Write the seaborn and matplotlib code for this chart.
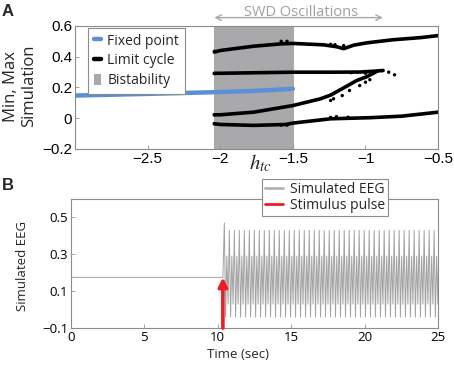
import numpy as np
import pandas as pd
import seaborn as sns
import matplotlib.pyplot as plt
from matplotlib.lines import Line2D
from matplotlib.patches import Patch

# ---- panel A data ----
fixed_x = [-3.0, -2.5, -2.0, -1.75, -1.5]
fixed_y = [0.147, 0.158, 0.170, 0.178, 0.191]

bistable_span = (-2.04, -1.49)

# limit cycle branches (max / min of the simulation)
top_x = [-2.04, -2.0, -1.77, -1.57, -1.5, -1.29, -1.2, -1.15, -1.08, -0.99, -0.81, -0.62, -0.5]
top_y = [0.430, 0.440, 0.468, 0.484, 0.486, 0.477, 0.465, 0.452, 0.475, 0.490, 0.510, 0.524, 0.537]
mid_x = [-2.04, -2.0, -1.5, -1.24, -1.04, -0.95, -0.88]
mid_y = [0.292, 0.292, 0.299, 0.299, 0.300, 0.305, 0.310]
rise_x = [-2.04, -2.0, -1.77, -1.5, -1.31, -1.24, -1.15, -1.06, -0.99, -0.93]
rise_y = [0.022, 0.022, 0.039, 0.082, 0.126, 0.150, 0.197, 0.245, 0.270, 0.300]
low_x = [-2.04, -2.0, -1.77, -1.55, -1.5, -1.24, -0.97, -0.75, -0.5]
low_y = [-0.036, -0.041, -0.047, -0.041, -0.032, -0.004, 0.003, 0.013, 0.039]

# scattered limit cycle points
dots_x = [-2.04, -2.04, -2.04, -2.04, -1.58, -1.54, -1.58, -1.54, -1.24, -1.21, -1.15,
          -1.24, -1.2, -1.12, -0.88, -0.84, -0.80, -0.97, -1.0, -1.04, -1.11, -1.16,
          -1.22, -1.24, -1.1, -1.0, -0.92]
dots_y = [0.435, 0.29, 0.022, -0.036, 0.500, 0.500, -0.045, -0.045, 0.480, 0.478, 0.472,
          0.005, 0.010, 0.006, 0.310, 0.299, 0.282, 0.250, 0.234, 0.212, 0.180, 0.147,
          0.126, 0.115, 0.296, 0.292, 0.305]

a_xticks = [-2.5, -2, -1.5, -1, -0.5]
a_xlabels = ['\u22122.5', '\u22122', '\u22121.5', '\u22121', '\u22120.5']
a_yticks = [-0.2, 0, 0.2, 0.4, 0.6]
a_ylabels = ['\u22120.2', '0', '0.2', '0.4', '0.6']

# ---- panel B data ----
rest_level = 0.175
stim_time = 10.35
first_peak_t = 10.45
first_peak_v = 0.47
cycle_period = 0.34
cycle_offsets = [0.0, 0.085, 0.17, 0.255]   # spike, trough, wave, trough
cycle_values = [0.43, -0.04, 0.29, 0.03]
n_cycles = 44

b_xticks = [0, 5, 10, 15, 20, 25]
b_yticks = [-0.1, 0.1, 0.3, 0.5]
b_ylabels = ['\u22120.1', '0.1', '0.3', '0.5']

# build the EEG trace from the cycle
eeg_t = [0.0, stim_time]
eeg_v = [rest_level, rest_level]
for k in range(n_cycles):
    for off, val in zip(cycle_offsets, cycle_values):
        eeg_t.append(first_peak_t + k * cycle_period + off)
        eeg_v.append(val)
eeg_v[2] = first_peak_v
eeg = pd.DataFrame({'t': eeg_t, 'v': eeg_v})

sns.set_style('ticks', {'xtick.direction': 'in', 'ytick.direction': 'in'})
plt.rcParams['font.family'] = ['Open Sans', 'DejaVu Sans']
plt.rcParams['mathtext.fontset'] = 'stix'

fig = plt.figure(figsize=(4.54, 3.65), dpi=100)
axA = fig.add_axes([0.165, 0.592, 0.800, 0.337])
axB = fig.add_axes([0.156, 0.101, 0.809, 0.354])

spine_col = '#8c8c8c'
blue = '#5b8fd6'
shade = '#a9a9ab'

# ---- panel A ----
axA.axvspan(*bistable_span, color=shade, lw=0, zorder=0)
sns.lineplot(x=fixed_x, y=fixed_y, ax=axA, color=blue, lw=3.2, estimator=None, sort=False)
for bx, by in [(top_x, top_y), (mid_x, mid_y), (rise_x, rise_y), (low_x, low_y)]:
    sns.lineplot(x=bx, y=by, ax=axA, color='black', lw=2.6, estimator=None, sort=False)
sns.scatterplot(x=dots_x, y=dots_y, ax=axA, color='black', s=6, edgecolor='none')

axA.set_xlim(-3, -0.5)
axA.set_ylim(-0.2, 0.6)
axA.set_xticks(a_xticks)
axA.set_xticklabels(a_xlabels, family='Liberation Sans', fontsize=11)
axA.set_yticks(a_yticks)
axA.set_yticklabels(a_ylabels, family='Liberation Sans', fontsize=11)
axA.set_xlabel('')
axA.set_ylabel('')

legA = axA.legend(handles=[Line2D([], [], color=blue, lw=3.2),
                           Line2D([], [], color='black', lw=3.2),
                           Patch(facecolor=shade, edgecolor='none')],
                  labels=['Fixed point', 'Limit cycle', 'Bistability'],
                  loc='upper left', bbox_to_anchor=(88 / 454, 1 - 28 / 365),
                  bbox_transform=fig.transFigure, borderaxespad=0,
                  fontsize=10, handlelength=0.5, handleheight=0.8, handletextpad=0.5,
                  labelspacing=0.35, borderpad=0.4, fancybox=False, framealpha=1)
legA.get_frame().set_edgecolor(spine_col)
legA.get_frame().set_linewidth(0.8)

# SWD oscillations arrow above panel A
axA.annotate('', xy=(-0.88, 0.654), xytext=(-2.04, 0.654),
             arrowprops=dict(arrowstyle='<->', color='#a8a8a8', lw=1.0,
                             shrinkA=0, shrinkB=0),
             annotation_clip=False)
axA.text(-1.44, 0.69, 'SWD Oscillations', color='#a0a0a0', fontsize=10.5,
         ha='center', va='center', clip_on=False)

fig.text(260 / 454, 1 - 163 / 365, '$h_{tc}$', fontsize=15, ha='center', va='center')
fig.text(20 / 454, 1 - 86 / 365, 'Min, Max\nSimulation', rotation=90, fontsize=12,
         ha='center', va='center', multialignment='center')

# ---- panel B ----
sns.lineplot(data=eeg, x='t', y='v', ax=axB, color='#a2a2a2', lw=0.7,
             estimator=None, sort=False)
axB.annotate('', xy=(stim_time, rest_level), xytext=(stim_time, -0.1),
             arrowprops=dict(arrowstyle='-|>', color='#ee1c24', lw=2.6,
                             mutation_scale=13, shrinkA=0, shrinkB=0))
axB.set_xlim(0, 25)
axB.set_ylim(-0.1, 0.6)
axB.set_xticks(b_xticks)
axB.set_xticklabels([str(t) for t in b_xticks], fontsize=9.5)
axB.set_yticks(b_yticks)
axB.set_yticklabels(b_ylabels, fontsize=9.5)
axB.set_xlabel('')
axB.set_ylabel('')

legB = axB.legend(handles=[Line2D([], [], color='#b4b4b4', lw=2),
                           Line2D([], [], color='#ee1c24', lw=2)],
                  labels=['Simulated EEG', 'Stimulus pulse'],
                  loc='upper left', bbox_to_anchor=(262 / 454, 1 - 179 / 365),
                  bbox_transform=fig.transFigure, borderaxespad=0,
                  fontsize=10, handlelength=1.3, handletextpad=0.5,
                  labelspacing=0.1, borderpad=0.2, fancybox=False, framealpha=1)
legB.get_frame().set_edgecolor(spine_col)
legB.get_frame().set_linewidth(0.8)

fig.text(238 / 454, 1 - 354 / 365, 'Time (sec)', fontsize=9.5, ha='center', va='center')
fig.text(23 / 454, 1 - 266 / 365, 'Simulated EEG', rotation=90, fontsize=9.5,
         ha='center', va='center')

for ax in (axA, axB):
    for sp in ax.spines.values():
        sp.set_color(spine_col)
        sp.set_linewidth(0.8)
    ax.tick_params(length=3, width=0.6, color=spine_col, labelcolor='black', pad=2)

fig.text(8 / 454, 1 - 11 / 365, 'A', fontsize=12, fontweight='bold',
         family='Liberation Sans', ha='center', va='center')
fig.text(8 / 454, 1 - 186 / 365, 'B', fontsize=12, fontweight='bold',
         family='Liberation Sans', ha='center', va='center')

fig.savefig('out.png', dpi=100)
